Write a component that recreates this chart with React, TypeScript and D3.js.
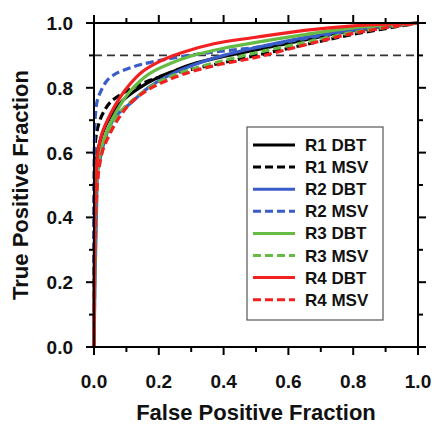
import React from "react";
import * as d3 from "d3";

type Pt = [number, number];

const majorTicks = [0, 0.2, 0.4, 0.6, 0.8, 1.0];
const minorTicks = [0.1, 0.3, 0.5, 0.7, 0.9];
const tickLabels = ["0.0", "0.2", "0.4", "0.6", "0.8", "1.0"];
const referenceLevel = 0.9;

const r1DBT: Pt[] = [[0, 0], [0.002, 0.4], [0.005, 0.55], [0.015, 0.62], [0.03, 0.67], [0.05, 0.71], [0.09, 0.762], [0.14, 0.8], [0.2, 0.833], [0.25, 0.853], [0.3, 0.872], [0.4, 0.897], [0.5, 0.917], [0.65, 0.948], [0.8, 0.976], [1, 1]];
const r1MSV: Pt[] = [[0, 0], [0.001, 0.5], [0.005, 0.64], [0.015, 0.69], [0.028, 0.722], [0.05, 0.755], [0.09, 0.784], [0.12, 0.8], [0.16, 0.818], [0.2, 0.832], [0.3, 0.857], [0.4, 0.878], [0.5, 0.9], [0.65, 0.933], [0.8, 0.965], [1, 1]];
const r2DBT: Pt[] = [[0, 0], [0.004, 0.25], [0.007, 0.38], [0.009, 0.485], [0.012, 0.546], [0.025, 0.608], [0.04, 0.66], [0.065, 0.71], [0.11, 0.75], [0.17, 0.802], [0.235, 0.84], [0.3, 0.868], [0.4, 0.9], [0.5, 0.924], [0.65, 0.955], [0.8, 0.98], [1, 1]];
const r2MSV: Pt[] = [[0, 0], [0, 0.5], [0.002, 0.66], [0.005, 0.725], [0.01, 0.76], [0.02, 0.787], [0.04, 0.822], [0.07, 0.845], [0.11, 0.861], [0.15, 0.873], [0.2, 0.884], [0.25, 0.893], [0.35, 0.908], [0.5, 0.925], [0.65, 0.952], [0.8, 0.977], [1, 1]];
const r3DBT: Pt[] = [[0, 0], [0.003, 0.35], [0.007, 0.5], [0.015, 0.58], [0.03, 0.64], [0.055, 0.7], [0.08, 0.745], [0.11, 0.788], [0.17, 0.843], [0.235, 0.875], [0.3, 0.898], [0.4, 0.922], [0.5, 0.94], [0.65, 0.964], [0.8, 0.985], [1, 1]];
const r3MSV: Pt[] = [[0, 0], [0.004, 0.3], [0.008, 0.45], [0.015, 0.55], [0.03, 0.62], [0.06, 0.69], [0.09, 0.735], [0.12, 0.762], [0.17, 0.8], [0.22, 0.828], [0.3, 0.857], [0.4, 0.884], [0.5, 0.908], [0.65, 0.94], [0.8, 0.971], [1, 1]];
const r4DBT: Pt[] = [[0, 0], [0.002, 0.35], [0.005, 0.5], [0.012, 0.6], [0.025, 0.66], [0.05, 0.718], [0.08, 0.77], [0.11, 0.81], [0.15, 0.85], [0.2, 0.88], [0.27, 0.908], [0.37, 0.936], [0.5, 0.956], [0.65, 0.977], [0.8, 0.991], [1, 1]];
const r4MSV: Pt[] = [[0, 0], [0.003, 0.3], [0.01, 0.5], [0.025, 0.6], [0.05, 0.66], [0.08, 0.712], [0.11, 0.75], [0.16, 0.79], [0.21, 0.816], [0.27, 0.84], [0.37, 0.868], [0.5, 0.894], [0.65, 0.932], [0.8, 0.968], [0.95, 0.993], [1, 1]];

const seriesNames = ["R1 DBT", "R1 MSV", "R2 DBT", "R2 MSV", "R3 DBT", "R3 MSV", "R4 DBT", "R4 MSV"];
const seriesData = [r1DBT, r1MSV, r2DBT, r2MSV, r3DBT, r3MSV, r4DBT, r4MSV];
const seriesColors = ["#000000", "#000000", "#3a5cc8", "#3a5cc8", "#66bb44", "#66bb44", "#f22020", "#f22020"];
const seriesDashed = [false, true, false, true, false, true, false, true];

const W = 434;
const H = 426;
const L = 94, R = 418, T = 23, B = 347;
const FONT = "'Liberation Sans', Arial, sans-serif";

export default function App() {
  const x = d3.scaleLinear().domain([0, 1]).range([L, R]);
  const y = d3.scaleLinear().domain([0, 1]).range([B, T]);
  const line = d3
    .line<Pt>()
    .x((d) => x(d[0]))
    .y((d) => y(d[1]))
    .curve(d3.curveCatmullRom.alpha(0.5));

  const tickLen = (major: boolean) => (major ? 8 : 5);
  const allTicks = [...majorTicks.map((v) => ({ v, major: true })), ...minorTicks.map((v) => ({ v, major: false }))];

  const legX = 247, legY = 127, legW = 136, legH = 193;
  const rowY0 = 145, rowDy = 22.1;

  return (
    <svg width={W} height={H} style={{ position: "absolute", left: 0, top: 0, background: "#fff" }} fontFamily={FONT}>
      <defs>
        <clipPath id="plotClip">
          <rect x={L - 2} y={T - 2} width={R - L + 4} height={B - T + 4} />
        </clipPath>
      </defs>
      <line x1={x(0)} x2={x(1)} y1={y(referenceLevel)} y2={y(referenceLevel)} stroke="#333" strokeWidth={1.6} strokeDasharray="8,5" />
      <g clipPath="url(#plotClip)">
        {seriesData.map((d, i) => (
          <path
            key={seriesNames[i]}
            d={line(d) || ""}
            fill="none"
            stroke={seriesColors[i]}
            strokeWidth={3.2}
            strokeDasharray={seriesDashed[i] ? "8,4" : undefined}
            strokeLinejoin="round"
          />
        ))}
      </g>
      <rect x={L} y={T} width={R - L} height={B - T} fill="none" stroke="#000" strokeWidth={2} />
      {allTicks.map(({ v, major }) => (
        <g key={"t" + v} stroke="#000" strokeWidth={2}>
          <line x1={x(v)} x2={x(v)} y1={B} y2={B + tickLen(major)} />
          <line x1={x(v)} x2={x(v)} y1={T} y2={T - tickLen(major)} />
          <line y1={y(v)} y2={y(v)} x1={L} x2={L - tickLen(major)} />
          <line y1={y(v)} y2={y(v)} x1={R} x2={R + tickLen(major)} />
        </g>
      ))}
      {majorTicks.map((v, i) => (
        <text key={"xl" + v} x={x(v)} y={388} textAnchor="middle" fontSize={19} fontWeight="bold" fill="#111">
          {tickLabels[i]}
        </text>
      ))}
      {majorTicks.map((v, i) => (
        <text key={"yl" + v} x={73} y={y(v) + 7} textAnchor="end" fontSize={19} fontWeight="bold" fill="#111">
          {tickLabels[i]}
        </text>
      ))}
      <text x={(L + R) / 2} y={420} textAnchor="middle" fontSize={22} fontWeight="bold" fill="#111">
        False Positive Fraction
      </text>
      <text transform={`translate(28, ${(T + B) / 2}) rotate(-90)`} textAnchor="middle" fontSize={22} fontWeight="bold" fill="#111">
        True Positive Fraction
      </text>
      <rect x={legX} y={legY} width={legW} height={legH} fill="#fff" stroke="#555" strokeWidth={1.2} />
      {seriesNames.map((name, i) => {
        const yy = rowY0 + i * rowDy;
        return (
          <g key={"leg" + name}>
            <line x1={253} x2={295} y1={yy} y2={yy} stroke={seriesColors[i]} strokeWidth={3} strokeDasharray={seriesDashed[i] ? "8,4" : undefined} />
            <text x={305} y={yy + 6} fontSize={17} fontWeight="bold" fill="#111">
              {name}
            </text>
          </g>
        );
      })}
    </svg>
  );
}
